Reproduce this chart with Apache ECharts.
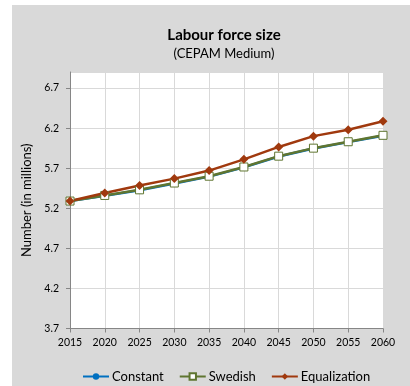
<!DOCTYPE html>
<html><head><meta charset="utf-8">
<script src="https://cdn.jsdelivr.net/npm/echarts@6/dist/echarts.min.js"></script>
<style>
html,body{margin:0;padding:0;background:#fff;}
#bg{position:absolute;left:12px;top:5px;width:398px;height:381px;background:#d9d9d9;}
#c{position:absolute;left:0;top:0;width:410px;height:386px;}
</style></head>
<body><div id="bg"></div><div id="c"></div>
<script>
const years = [2015,2020,2025,2030,2035,2040,2045,2050,2055,2060];
const constant = [5.29,5.355,5.425,5.51,5.595,5.71,5.845,5.945,6.025,6.105];
const swedish = [5.29,5.36,5.43,5.515,5.60,5.715,5.85,5.95,6.03,6.11];
const equalization = [5.29,5.39,5.485,5.57,5.67,5.81,5.965,6.10,6.18,6.285];
const yTicks = [3.7,4.2,4.7,5.2,5.7,6.2,6.7];

const pair = arr => years.map((y,i)=>[y,arr[i]]);
const chart = echarts.init(document.getElementById('c'), null, {renderer:'canvas'});
const font = 'Lato, "Open Sans", sans-serif';
chart.setOption({
  backgroundColor:'transparent',
  animation:false,
  title:{
    text:'Labour force size', subtext:'(CEPAM Medium)',
    left:224, textAlign:'center', top:28, itemGap:4, padding:0,
    textStyle:{fontFamily:font,fontSize:15,fontWeight:'bold',color:'#000'},
    subtextStyle:{fontFamily:font,fontSize:13,color:'#000'}
  },
  grid:{left:70,right:27,top:72,bottom:57.5,show:true,backgroundColor:'#fff',borderWidth:0},
  legend:{
    bottom:3,left:82,padding:0,itemWidth:26,itemHeight:8,itemGap:15,
    textStyle:{fontFamily:font,fontSize:13,color:'#000',padding:[0,0,0,-2]},
    data:['Constant','Swedish','Equalization']
  },
  xAxis:{
    type:'value',min:2015,max:2060,interval:5,
    axisLine:{show:true,lineStyle:{color:'#868686'}},
    axisTick:{show:true,length:4,lineStyle:{color:'#868686'}},
    axisLabel:{fontFamily:font,fontSize:10.5,color:'#000',margin:9,formatter:v=>String(v)},
    splitLine:{show:true,lineStyle:{color:'#d9d9d9',width:1}}
  },
  yAxis:{
    type:'value',min:yTicks[0],max:6.9,interval:0.5,
    name:'Number (in millions)',nameLocation:'middle',nameGap:35,
    nameTextStyle:{fontFamily:font,fontSize:13,color:'#000'},
    axisLine:{show:true,lineStyle:{color:'#868686'}},
    axisTick:{show:true,length:4,lineStyle:{color:'#868686'}},
    axisLabel:{fontFamily:font,fontSize:10.5,color:'#000',margin:11,showMaxLabel:false,
      formatter:v=>yTicks.some(t=>Math.abs(t-v)<1e-6)?v.toFixed(1):''},
    splitLine:{show:true,lineStyle:{color:'#d9d9d9',width:1}}
  },
  series:[
    {name:'Constant',type:'line',data:pair(constant),symbol:'circle',symbolSize:7,
     lineStyle:{color:'#0070c0',width:2.5},itemStyle:{color:'#0070c0'}},
    {name:'Swedish',type:'line',data:pair(swedish),symbol:'rect',symbolSize:8,
     lineStyle:{color:'#5f7530',width:2.5},itemStyle:{color:'#fff',borderColor:'#5f7530',borderWidth:1}},
    {name:'Equalization',type:'line',data:pair(equalization),symbol:'diamond',symbolSize:9,
     lineStyle:{color:'#a0390e',width:2.5},itemStyle:{color:'#a0390e'}}
  ]
});
</script></body></html>
